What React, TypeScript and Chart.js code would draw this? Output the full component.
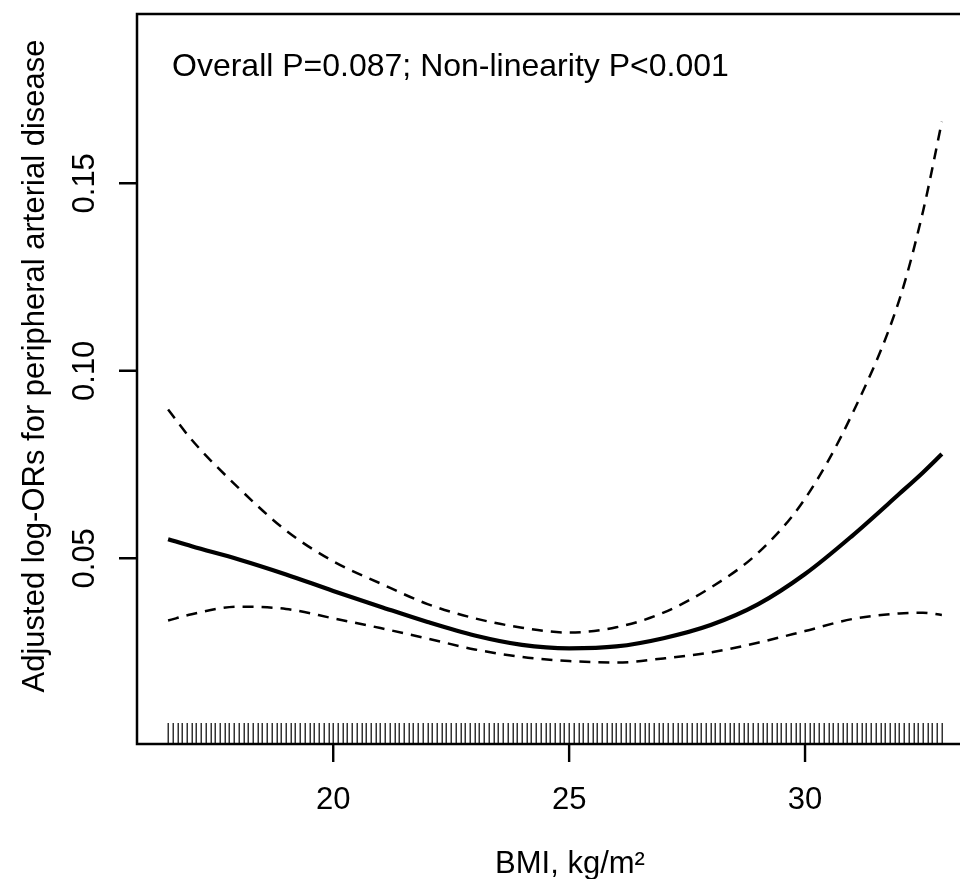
import React, { useEffect, useRef } from "react";
import { Chart, registerables } from "chart.js";

Chart.register(...registerables);

// BMI positions of the estimate (kg/m²)
const bmi = [16.5, 17, 18, 19, 20, 21, 22, 23, 24, 25, 26, 27, 28, 29, 30, 31, 32, 32.5, 32.9];
// adjusted log-OR estimate
const estimate = [0.0551, 0.0532, 0.0497, 0.0457, 0.0413, 0.0371, 0.033, 0.0294, 0.0269, 0.026, 0.0265, 0.0287, 0.0322, 0.0377, 0.0458, 0.056, 0.0672, 0.0729, 0.0778];
// upper 95% CI
const upper = [0.0897, 0.0816, 0.0687, 0.0574, 0.0492, 0.0433, 0.0378, 0.034, 0.0315, 0.0302, 0.0316, 0.0355, 0.0422, 0.0514, 0.0659, 0.0885, 0.119, 0.1425, 0.1664];
// lower 95% CI
const lower = [0.0334, 0.0351, 0.0371, 0.0365, 0.034, 0.0314, 0.0286, 0.0257, 0.0237, 0.0226, 0.0222, 0.0233, 0.0249, 0.0275, 0.0306, 0.0338, 0.0353, 0.0355, 0.0349];
// rug (observed BMI values)
const rug = [
  16.5, 16.6, 16.7, 16.8, 16.9,
  17.0, 17.1, 17.2, 17.3, 17.4, 17.5, 17.6, 17.7, 17.8, 17.9,
  18.0, 18.1, 18.2, 18.3, 18.4, 18.5, 18.6, 18.7, 18.8, 18.9,
  19.0, 19.1, 19.2, 19.3, 19.4, 19.5, 19.6, 19.7, 19.8, 19.9,
  20.0, 20.1, 20.2, 20.3, 20.4, 20.5, 20.6, 20.7, 20.8, 20.9,
  21.0, 21.1, 21.2, 21.3, 21.4, 21.5, 21.6, 21.7, 21.8, 21.9,
  22.0, 22.1, 22.2, 22.3, 22.4, 22.5, 22.6, 22.7, 22.8, 22.9,
  23.0, 23.1, 23.2, 23.3, 23.4, 23.5, 23.6, 23.7, 23.8, 23.9,
  24.0, 24.1, 24.2, 24.3, 24.4, 24.5, 24.6, 24.7, 24.8, 24.9,
  25.0, 25.1, 25.2, 25.3, 25.4, 25.5, 25.6, 25.7, 25.8, 25.9,
  26.0, 26.1, 26.2, 26.3, 26.4, 26.5, 26.6, 26.7, 26.8, 26.9,
  27.0, 27.1, 27.2, 27.3, 27.4, 27.5, 27.6, 27.7, 27.8, 27.9,
  28.0, 28.1, 28.2, 28.3, 28.4, 28.5, 28.6, 28.7, 28.8, 28.9,
  29.0, 29.1, 29.2, 29.3, 29.4, 29.5, 29.6, 29.7, 29.8, 29.9,
  30.0, 30.1, 30.2, 30.3, 30.4, 30.5, 30.6, 30.7, 30.8, 30.9,
  31.0, 31.1, 31.2, 31.3, 31.4, 31.5, 31.6, 31.7, 31.8, 31.9,
  32.0, 32.1, 32.2, 32.3, 32.4, 32.5, 32.6, 32.7, 32.8, 32.9,
];
const xTicks = [20, 25, 30];
const yTicks = [0.05, 0.1, 0.15];
const yTickLabels = ["0.05", "0.10", "0.15"];
const xTitle = "BMI, kg/m²";
const yTitle = "Adjusted log-ORs for peripheral arterial disease";
const annotation = "Overall P=0.087; Non-linearity P<0.001";

const FAMILY = "'Liberation Sans', Arial, Helvetica, sans-serif";
const FONT = "31px " + FAMILY;
const FONT_NOTE = "32px " + FAMILY;

const rPlotPlugin = {
  id: "rPlot",
  afterDatasetsDraw(chart: any) {
    const { ctx, chartArea: a, scales } = chart;
    const xs = scales.x;
    const ys = scales.y;
    ctx.save();
    ctx.fillStyle = "#000";
    // rug
    ctx.lineWidth = 1.5;
    ctx.strokeStyle = "#333";
    ctx.beginPath();
    rug.forEach((v) => {
      const px = Math.round(xs.getPixelForValue(v)) + 0.25;
      ctx.moveTo(px, a.bottom - 21);
      ctx.lineTo(px, a.bottom);
    });
    ctx.stroke();
    // box
    ctx.strokeStyle = "#000";
    ctx.lineWidth = 2.5;
    ctx.strokeRect(a.left, a.top, a.right - a.left, a.bottom - a.top);
    // ticks
    ctx.lineWidth = 2.4;
    ctx.beginPath();
    xTicks.forEach((v) => {
      const px = xs.getPixelForValue(v);
      ctx.moveTo(px, a.bottom);
      ctx.lineTo(px, a.bottom + 18);
    });
    yTicks.forEach((v) => {
      const py = ys.getPixelForValue(v);
      ctx.moveTo(a.left, py);
      ctx.lineTo(a.left - 18, py);
    });
    ctx.stroke();
    ctx.font = FONT;
    ctx.textAlign = "center";
    ctx.textBaseline = "alphabetic";
    xTicks.forEach((v) => {
      ctx.fillText(String(v), xs.getPixelForValue(v), a.bottom + 65);
    });
    yTicks.forEach((v, i) => {
      const py = ys.getPixelForValue(v);
      ctx.save();
      ctx.translate(a.left - 43, py);
      ctx.rotate(-Math.PI / 2);
      ctx.fillText(yTickLabels[i], 0, 0);
      ctx.restore();
    });
    // axis titles
    ctx.fillText(xTitle, 570, a.bottom + 129);
    ctx.save();
    ctx.translate(44, 366);
    ctx.rotate(-Math.PI / 2);
    ctx.fillText(yTitle, 0, 0);
    ctx.restore();
    // annotation
    ctx.font = FONT_NOTE;
    ctx.textAlign = "left";
    ctx.fillText(annotation, 172, 76);
    ctx.restore();
  },
};

export default function App() {
  const ref = useRef<HTMLCanvasElement | null>(null);
  useEffect(() => {
    if (!ref.current) return;
    const pts = (ys: number[]) => bmi.map((b, i) => ({ x: b, y: ys[i] }));
    const common = {
      borderColor: "#000",
      pointRadius: 0,
      cubicInterpolationMode: "monotone" as const,
      fill: false,
    };
    const chart = new Chart(ref.current, {
      type: "line",
      data: {
        datasets: [
          { label: "Estimate", data: pts(estimate), borderWidth: 4.2, ...common },
          { label: "Upper 95% CI", data: pts(upper), borderWidth: 2.5, borderDash: [11, 8], ...common },
          { label: "Lower 95% CI", data: pts(lower), borderWidth: 2.5, borderDash: [11, 8], ...common },
        ],
      },
      options: {
        animation: false,
        responsive: false,
        devicePixelRatio: 1,
        layout: { padding: { left: 137, top: 14, right: 27, bottom: 135 } },
        plugins: { legend: { display: false }, tooltip: { enabled: false } },
        scales: {
          x: { type: "linear", min: 15.841, max: 33.56, display: false },
          y: { type: "linear", min: 0.00048, max: 0.19515, display: false },
        },
      },
      plugins: [rPlotPlugin],
    });
    return () => chart.destroy();
  }, []);
  return (
    <div
      style={{
        position: "fixed",
        left: 0,
        top: 0,
        width: 960,
        height: 879,
        overflow: "hidden",
        background: "#fff",
      }}
    >
      <canvas ref={ref} width={1000} height={879} style={{ display: "block" }} />
    </div>
  );
}
